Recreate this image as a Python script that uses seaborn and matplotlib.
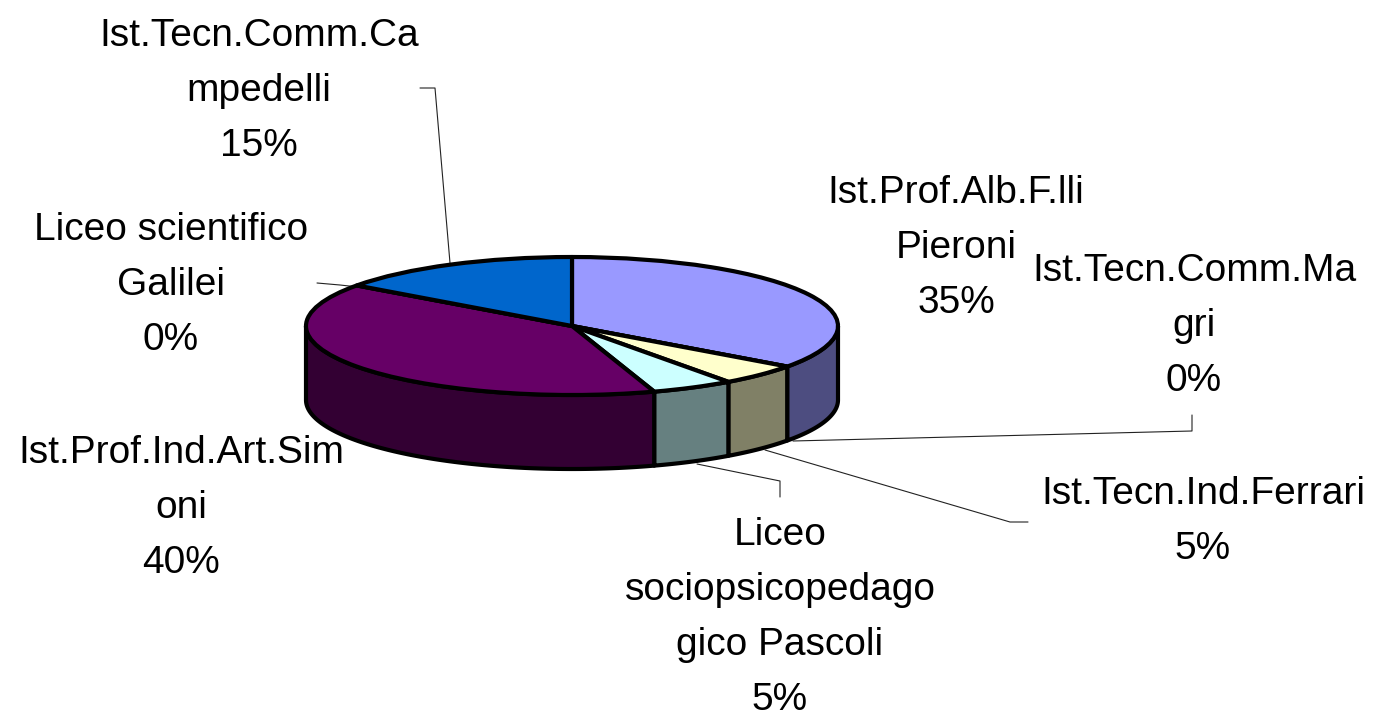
import numpy as np
import matplotlib
matplotlib.use("Agg")
import matplotlib.pyplot as plt
import seaborn as sns

schools = ["Ist.Prof.Alb.F.lli\nPieroni", "Ist.Tecn.Comm.Ma\ngri", "Ist.Tecn.Ind.Ferrari",
           "Liceo\nsociopsicopedago\ngico Pascoli", "Ist.Prof.Ind.Art.Sim\noni",
           "Liceo scientifico\nGalilei", "Ist.Tecn.Comm.Ca\nmpedelli"]
shares = [35, 0, 5, 5, 40, 0, 15]
palette = ["#9999FF", "#993366", "#FFFFCC", "#CCFFFF", "#660066", "#FF8080", "#0066CC"]

W, H = 1376, 712
CX, CY, RX, RY, DEPTH = 572, 326, 266, 69, 74
LW = 3.0

sns.set_theme(style="white")
plt.rcParams["font.family"] = ["Liberation Sans", "DejaVu Sans"]
colors = sns.color_palette(palette)

fig = plt.figure(figsize=(W / 100, H / 100), dpi=100, facecolor="white")
ax = fig.add_axes([0, 0, 1, 1])

# one data unit in x = RX px, one in y = RY px, which squashes the pie into an ellipse
ax.pie(shares, colors=colors, startangle=90, counterclock=False, radius=1,
       wedgeprops=dict(edgecolor="black", linewidth=LW, joinstyle="round", zorder=5))
ax.set_aspect("auto")
ax.set_xlim(-CX / RX, (W - CX) / RX)
ax.set_ylim(-(H - CY) / RY, CY / RY)
ax.set_axis_off()

# side wall: visible lower half of each slice
d = DEPTH / RY
edges = np.cumsum([0] + shares) / sum(shares) * 2 * np.pi
for i, share in enumerate(shares):
    lo, hi = max(edges[i], np.pi / 2), min(edges[i + 1], 3 * np.pi / 2)
    if share == 0 or lo >= hi:
        continue
    t = np.linspace(lo, hi, 120)
    x, y = np.sin(t), np.cos(t)
    wall = np.concatenate([np.c_[x, y], np.c_[x[::-1], y[::-1] - d]])
    dark = tuple(0.5 * c for c in colors[i])
    ax.fill(wall[:, 0], wall[:, 1], facecolor=dark, edgecolor="black",
            linewidth=LW, joinstyle="round", zorder=3)

# helper transform: reference pixels, y down
pix = matplotlib.transforms.Affine2D().scale(1, -1).translate(0, H)

leaders = [
    [(450, 263), (435, 88), (420, 88)],
    [(358, 287), (340, 285), (317, 283)],
    [(793, 441), (1192, 431), (1192, 415)],
    [(765, 450), (1010, 522), (1028, 522)],
    [(697, 464), (780, 481), (780, 497)],
]
for pts in leaders:
    px, py = zip(*pts)
    ax.plot(px, py, color="#222222", lw=0.8, transform=pix, zorder=2, clip_on=False)

label_pos = [(956, 248), (1194, 326), (1203, 521.5), (780, 617.5), (181, 508), (171, 285), (259, 91)]
for name, share, (tx, ty) in zip(schools, shares, label_pos):
    ax.text(tx, ty, f"{name}\n{share}%", transform=pix, ha="center", va="center",
            fontsize=28, color="black", linespacing=1.67, zorder=6)

fig.savefig("out.png", dpi=100, facecolor="white")
